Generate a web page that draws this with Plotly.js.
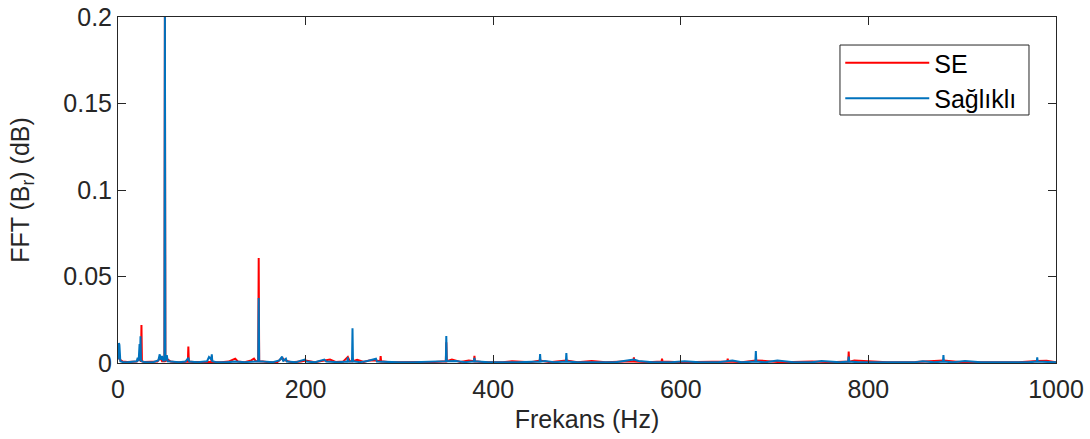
<!DOCTYPE html>
<html>
<head>
<meta charset="utf-8">
<script src="https://cdn.plot.ly/plotly-3.0.1.min.js"></script>
<style>html,body{margin:0;padding:0;background:#fff;}#chart{width:1090px;height:439px;}</style>
</head>
<body>
<div id="chart"></div>
<script>
// SE series (Hz, amplitude)
const seFreq = [0,1,2,5,10,15,20,22,24.5,25,25.5,28,35,42,45,47,49.5,50,50.5,53,56,62,70,74.5,75,75.5,80,90,99.5,100,100.5,110,118,122,125,128,135,142,145,147,149.5,150,150.5,155,160,170,175,178,185,195,200,210,220,226,232,240,245,247,249.5,250,250.5,255,262,268,275,279.5,280,280.5,290,300,320,335,345,349.5,350,350.5,356,365,374,379.5,380,380.5,390,410,420,440,450,460,478,490,505,520,540,549.5,550,550.5,565,579.5,580,580.5,600,620,640,649.5,650,650.5,665,680,690,705,720,740,760,778.5,779,779.5,785,800,820,850,880,900,930,960,980,990,1000];
const seAmp = [0.003,0.004,0.002,0.0008,0.0006,0.0005,0.0008,0.0025,0.001,0.022,0.001,0.0006,0.0005,0.0008,0.003,0.001,0.001,0.205,0.001,0.002,0.0008,0.0005,0.0006,0.0008,0.0095,0.0008,0.0006,0.0004,0.0006,0.004,0.0006,0.0005,0.0008,0.0018,0.0025,0.0008,0.0005,0.0015,0.0025,0.001,0.001,0.0607,0.001,0.0008,0.0005,0.0006,0.003,0.0015,0.0005,0.0008,0.0015,0.0005,0.0012,0.002,0.0006,0.0008,0.0035,0.001,0.001,0.003,0.001,0.0018,0.0006,0.0015,0.0015,0.001,0.004,0.001,0.0005,0.0004,0.0006,0.0005,0.0008,0.001,0.012,0.001,0.002,0.0006,0.0015,0.001,0.0042,0.001,0.0005,0.0004,0.001,0.0005,0.0015,0.0005,0.0015,0.0005,0.0012,0.0005,0.0008,0.0008,0.0032,0.0008,0.0005,0.0008,0.0025,0.0008,0.0005,0.0005,0.0008,0.0008,0.0025,0.0008,0.0005,0.0015,0.0012,0.0005,0.0006,0.0008,0.0005,0.0008,0.0066,0.0008,0.0015,0.0012,0.0005,0.0006,0.0015,0.0005,0.0006,0.0005,0.0012,0.0013,0.0005];

// Sağlıklı series (Hz, amplitude)
const healthyFreq = [0,1,1.5,2.5,5,10,15,20,21,22,23,23.5,24,24.5,26,30,38,43,44.5,45.5,47,48,49.5,50,50.5,52,53,56,65,72,75,76,85,95,97,99.5,100,100.5,105,115,125,135,145,149.5,150,150.5,155,165,172,175,176,179,180,190,196,199,201,210,220,222,235,244.5,245,245.5,249.5,250,250.5,258,266,275,276,285,300,315,330,345,349.5,350,350.5,360,370,379.5,380,380.5,395,410,425,449.5,450,450.5,455,465,477.5,478,478.5,490,510,530,550,555,570,590,604,620,640,655,665,679.5,680,680.5,690,703,720,740,750,755,770,778.5,779,779.5,790,810,830,835,850,858,870,879.5,880,880.5,890,903,908,920,950,970,979.5,980,980.5,990,1000];
const healthyAmp = [0.002,0.0115,0.0105,0.001,0.0006,0.0004,0.0005,0.001,0.003,0.001,0.011,0.002,0.0155,0.0015,0.0008,0.0005,0.0006,0.0015,0.005,0.002,0.004,0.0015,0.0015,0.205,0.0015,0.0045,0.001,0.0008,0.0005,0.0008,0.003,0.0008,0.0005,0.001,0.0035,0.002,0.005,0.001,0.0005,0.0004,0.0008,0.0005,0.0008,0.001,0.0376,0.001,0.0008,0.0005,0.0015,0.0037,0.001,0.0025,0.0008,0.0005,0.0015,0.002,0.0008,0.0004,0.002,0.0008,0.0005,0.0008,0.0033,0.0008,0.001,0.0201,0.001,0.0005,0.0012,0.0025,0.0008,0.0005,0.0004,0.0005,0.0006,0.0008,0.001,0.0156,0.001,0.0012,0.0005,0.001,0.003,0.001,0.0004,0.0005,0.0004,0.0008,0.0052,0.0008,0.0012,0.0005,0.0008,0.0058,0.0008,0.0004,0.0005,0.0004,0.002,0.0012,0.0004,0.0005,0.001,0.0004,0.0005,0.0015,0.0004,0.0008,0.0069,0.0008,0.0004,0.0015,0.0005,0.0004,0.0012,0.001,0.0004,0.0008,0.0037,0.0008,0.0004,0.0005,0.0004,0.0008,0.0005,0.001,0.0004,0.0008,0.0046,0.0008,0.0004,0.0012,0.001,0.0004,0.0005,0.0004,0.0008,0.0032,0.0008,0.0004,0.0004];

const seriesNames = ['SE', 'Sağlıklı'];
const xTickVals = [0,200,400,600,800,1000];
const yTickVals = [0,0.05,0.1,0.15,0.2];
const yTickText = ['0','0.05','0.1','0.15','0.2'];

const font = 'Arial, "Liberation Sans", Helvetica, sans-serif';
const ink = '#262626';

const traces = [
  {x: seFreq, y: seAmp, type: 'scatter', mode: 'lines', name: seriesNames[0],
   line: {color: '#FF0000', width: 2}},
  {x: healthyFreq, y: healthyAmp, type: 'scatter', mode: 'lines', name: seriesNames[1],
   line: {color: '#0072BD', width: 2}}
];

const axisCommon = {
  showgrid: false, zeroline: false, showline: true, linecolor: ink, linewidth: 1,
  mirror: 'allticks', ticks: 'inside', ticklen: 8, tickwidth: 1, tickcolor: ink,
  tickfont: {family: font, size: 25, color: ink}
};

const layout = {
  width: 1090, height: 439,
  margin: {l: 118, r: 34, t: 17, b: 76},
  paper_bgcolor: '#fff', plot_bgcolor: '#fff',
  showlegend: true,
  xaxis: Object.assign({}, axisCommon, {
    range: [0, 1000], tickvals: xTickVals, ticktext: xTickVals.map(String),
    ticklabelstandoff: 4,
    title: {text: 'Frekans (Hz)', font: {family: font, size: 25, color: ink}, standoff: 8}
  }),
  yaxis: Object.assign({}, axisCommon, {
    range: [0, 0.2], tickvals: yTickVals, ticktext: yTickText,
    title: {text: 'FFT (B<sub>r</sub>) (dB)', font: {family: font, size: 25, color: ink}, standoff: 26}
  }),
  shapes: [
    {type: 'rect', xref: 'paper', yref: 'paper', x0: 0.7697, x1: 0.9712, y0: 0.7168, y1: 0.919,
     line: {color: ink, width: 1}, fillcolor: 'rgba(0,0,0,0)', layer: 'above'}
  ],
  legend: {
    x: 0.77, y: 0.9335, xanchor: 'left', yanchor: 'top',
    bgcolor: 'rgba(0,0,0,0)', borderwidth: 0,
    font: {family: font, size: 25, color: '#000'},
    itemwidth: 84, tracegroupgap: 0
  }
};

Plotly.newPlot('chart', traces, layout, {displayModeBar: false, staticPlot: true});
</script>
</body>
</html>
